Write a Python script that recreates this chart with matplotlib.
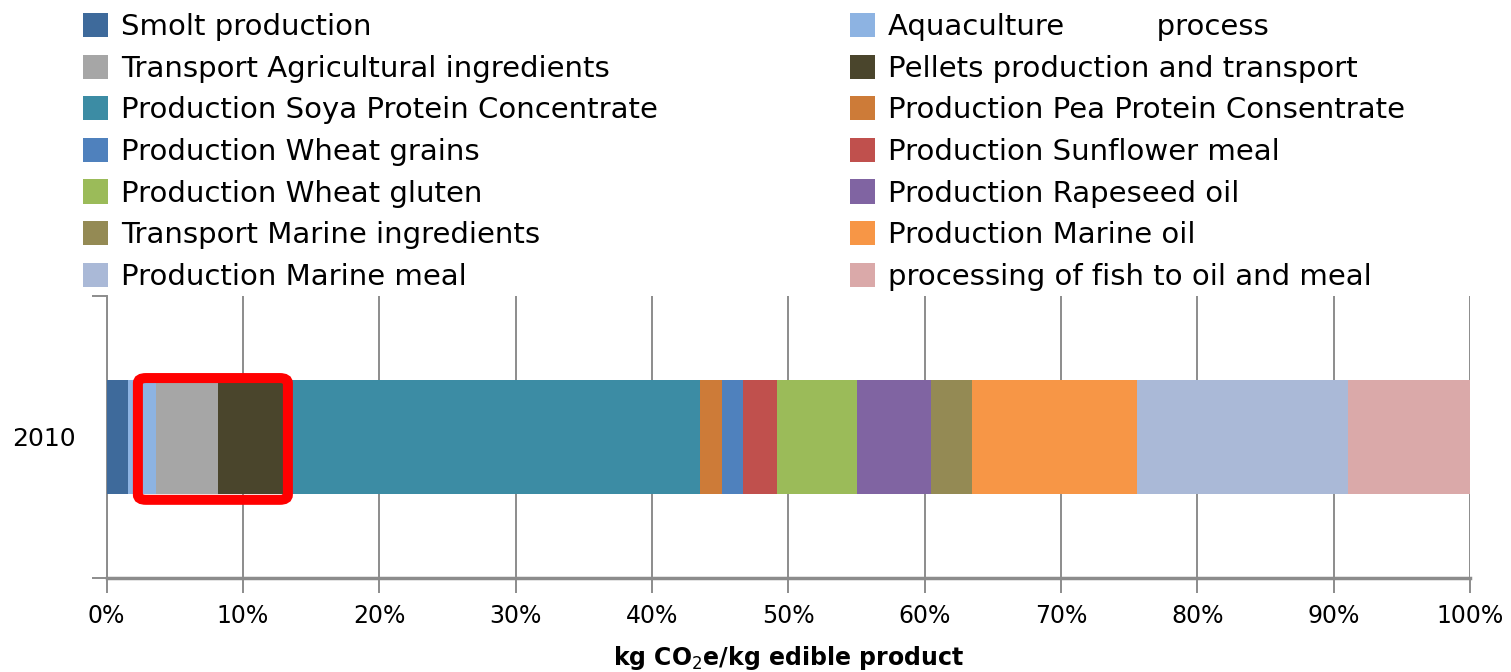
import matplotlib
matplotlib.use('Agg')
import matplotlib.pyplot as plt
from matplotlib.patches import FancyBboxPatch, Patch
from matplotlib.ticker import FixedLocator, PercentFormatter

plt.rcParams['font.family'] = ['DejaVu Sans']

# share of kg CO2e/kg edible product, 2010 (percent)
years = ['2010']
etapas = ['Smolt production', 'Aquaculture          process',
          'Transport Agricultural ingredients', 'Pellets production and transport',
          'Production Soya Protein Concentrate', 'Production Pea Protein Consentrate',
          'Production Wheat grains', 'Production Sunflower meal',
          'Production Wheat gluten', 'Production Rapeseed oil',
          'Transport Marine ingredients', 'Production Marine oil',
          'Production Marine meal', 'processing of fish to oil and meal']
valores = [1.6, 2.05, 4.5, 5.4, 30.0, 1.55, 1.6, 2.45, 5.85, 5.45, 3.0, 12.1, 15.5, 8.95]
cores = ['#3e6a9b', '#8db3e2', '#a6a6a6', '#4a452c', '#3c8ca4', '#cd7b38',
         '#4f81bd', '#c0504d', '#9bbb59', '#8064a2', '#948a54', '#f79646',
         '#aab9d7', '#daa9a9']

fig = plt.figure(figsize=(15.11, 6.72), dpi=100)
ax = fig.add_axes([0.0705, 0.140, 0.9025, 0.4195])

esq = 0
for v, c, nome in zip(valores, cores, etapas):
    ax.barh(0, v, left=esq, height=0.404, color=c, label=nome, zorder=3)
    esq += v

ax.set_xlim(0, 100)
ax.set_ylim(-0.5, 0.5)
ax.xaxis.set_major_locator(FixedLocator(range(0, 101, 10)))
ax.xaxis.set_major_formatter(PercentFormatter(decimals=0))
ax.grid(axis='x', color='#8c8c8c', linewidth=1.4, zorder=0)
ax.tick_params(axis='x', length=11, width=1.4, color='#8c8c8c', labelsize=17, pad=8)

ax.set_yticks([-0.5, 0.5])
ax.set_yticklabels([])
ax.set_yticks([0], minor=True)
ax.set_yticklabels(years, minor=True)
ax.tick_params(axis='y', which='major', length=11, width=1.4, color='#8c8c8c')
ax.tick_params(axis='y', which='minor', length=0, labelsize=18, pad=22)

for s in ['top', 'right']:
    ax.spines[s].set_visible(False)
ax.spines['left'].set_color('#8c8c8c')
ax.spines['left'].set_linewidth(1.4)
ax.spines['bottom'].set_color('#8c8c8c')
ax.spines['bottom'].set_linewidth(2.5)

ax.set_xlabel('kg CO$_2$e/kg edible product', fontsize=17, fontweight='bold', labelpad=11)

# caixa vermelha
caixa = FancyBboxPatch((2.3, -0.223), 11.0, 0.432, boxstyle='round,pad=0,rounding_size=0.6',
                       fill=False, edgecolor='red', linewidth=7.2, zorder=5,
                       mutation_aspect=0.03)
ax.add_patch(caixa)

handles = [Patch(facecolor=c, edgecolor='none') for c in cores]
kw = dict(frameon=False, fontsize=21, handlelength=0.85, handleheight=0.9,
          handletextpad=0.45, labelspacing=0.46, borderaxespad=0, borderpad=0)
leg1 = fig.legend(handles[0::2], etapas[0::2], loc='upper left',
                  bbox_to_anchor=(83 / 1511, 1 - 13 / 672), **kw)
leg2 = fig.legend(handles[1::2], etapas[1::2], loc='upper left',
                  bbox_to_anchor=(850 / 1511, 1 - 13 / 672), **kw)

plt.savefig('out.png', dpi=100)
plt.clf()
